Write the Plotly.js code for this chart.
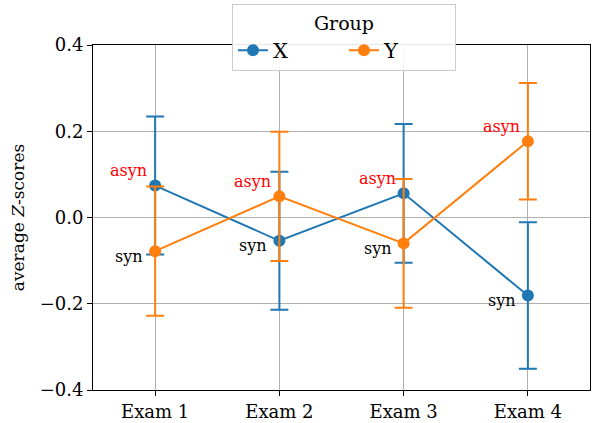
<!DOCTYPE html>
<html>
<head>
<meta charset="utf-8">
<script src="https://cdn.plot.ly/plotly-3.0.1.min.js"></script>
<style>html,body{margin:0;padding:0;background:#fff;}#chart{width:594px;height:423px;}</style>
</head>
<body>
<div id="chart"></div>
<script>
const categories = ["Exam 1", "Exam 2", "Exam 3", "Exam 4"];
const seriesNames = ["X", "Y"];
const valuesX = [0.074, -0.054, 0.056, -0.181];
const errorsX = [0.160, 0.160, 0.161, 0.170];
const valuesY = [-0.078, 0.049, -0.060, 0.177];
const errorsY = [0.150, 0.150, 0.149, 0.135];
const labelsX = ["asyn", "syn", "asyn", "syn"];
const labelsY = ["syn", "asyn", "syn", "asyn"];
const yTicks = [-0.4, -0.2, 0.0, 0.2, 0.4];
const yTickText = ["\u22120.4", "\u22120.2", "0.0", "0.2", "0.4"];

const colors = ["#1f77b4", "#ff7f0e"];
const FONT = "DejaVu Serif";

function mkTrace(name, vals, errs, color) {
  return {
    type: "scatter", mode: "lines+markers", name: name,
    x: categories, y: vals,
    line: {color: color, width: 2},
    marker: {color: color, size: 12},
    error_y: {type: "data", array: errs, visible: true, color: color, thickness: 2, width: 9}
  };
}

const traces = [
  mkTrace(seriesNames[0], valuesX, errorsX, colors[0]),
  mkTrace(seriesNames[1], valuesY, errorsY, colors[1])
];

const annotations = [];
function addLabels(vals, labels) {
  vals.forEach((v, i) => {
    const isA = labels[i] === "asyn";
    annotations.push({
      x: categories[i], y: v, xref: "x", yref: "y",
      text: labels[i], showarrow: false,
      xanchor: "right", yanchor: "middle",
      xshift: isA ? -6 : -10, yshift: isA ? 15 : -5,
      font: {family: FONT, size: 16, color: isA ? "#ff0000" : "#000000"}
    });
  });
}
addLabels(valuesX, labelsX);
addLabels(valuesY, labelsY);

const layout = {
  width: 594, height: 423,
  margin: {l: 93, r: 4, t: 45, b: 33, pad: 0},
  paper_bgcolor: "#fff", plot_bgcolor: "#fff",
  font: {family: FONT, size: 18, color: "#000"},
  showlegend: true,
  legend: {
    orientation: "h", x: 0.505, xanchor: "center", y: 1.118, yanchor: "top",
    bgcolor: "rgba(255,255,255,0.9)", bordercolor: "#cccccc", borderwidth: 1,
    title: {text: "Group", side: "top center", font: {family: FONT, size: 19}},
    font: {family: FONT, size: 21},
    entrywidth: 66, entrywidthmode: "pixels", traceorder: "normal"
  },
  xaxis: {
    type: "category", range: [-0.5, 3.5],
    showgrid: true, gridcolor: "#b0b0b0", gridwidth: 1,
    showline: true, linecolor: "#000", linewidth: 1, mirror: true,
    ticks: "outside", ticklen: 5, tickcolor: "#000",
    tickfont: {family: FONT, size: 18}, zeroline: false
  },
  yaxis: {
    range: [-0.4, 0.4], tickvals: yTicks, ticktext: yTickText,
    showgrid: true, gridcolor: "#b0b0b0", gridwidth: 1,
    showline: true, linecolor: "#000", linewidth: 1, mirror: true,
    ticks: "outside", ticklen: 5, tickcolor: "#000",
    tickfont: {family: FONT, size: 18}, zeroline: false,
    title: {text: "average <i>Z</i>-scores", font: {family: FONT, size: 17, color: "#000"}, standoff: 10}
  },
  annotations: annotations
};

Plotly.newPlot("chart", traces, layout, {displayModeBar: false, staticPlot: true});
</script>
</body>
</html>
